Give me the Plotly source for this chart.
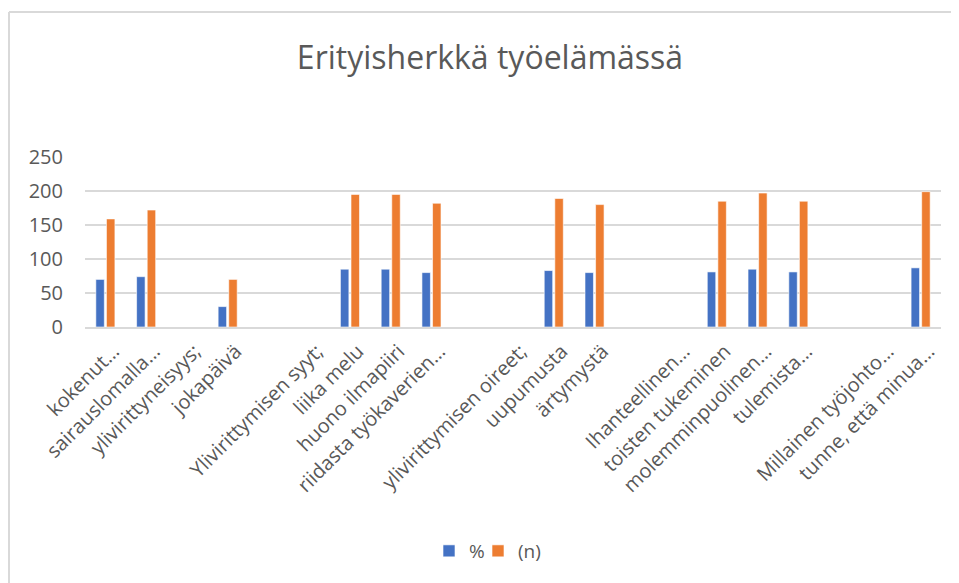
import plotly.graph_objects as go

categories = [
    "kokenut…", "sairauslomalla…", "ylivirittyneisyys;", "jokapäivä", " ",
    "Ylivirittymisen syyt;", "liika melu", "huono ilmapiiri", "riidasta työkaverien…", "  ",
    "ylivirittymisen oireet;", "uupumusta", "ärtymystä", "   ",
    "Ihanteellinen…", "toisten tukeminen", "molemminpuolinen…", "tulemista…", "    ",
    "Millainen työjohto…", "tunne, että minua…",
]
pct = [70, 74, None, 30, None, None, 85, 85, 80, None, None, 83, 80, None,
       None, 81, 85, 81, None, None, 87]
n_vals = [159, 172, None, 70, None, None, 195, 195, 182, None, None, 189, 180, None,
          None, 185, 197, 185, None, None, 199]
y_ticks = [0, 50, 100, 150, 200, 250]

FONT = "Open Sans"
GREY = "#595959"

fig = go.Figure()
fig.add_trace(go.Bar(x=categories, y=pct, name="%", marker_color="#4472C4",
                     marker_line_color="rgba(255,255,255,0.6)", marker_line_width=1,
                     legend="legend", showlegend=True))
fig.add_trace(go.Bar(x=categories, y=n_vals, name="(n)", marker_color="#ED7D31",
                     marker_line_color="rgba(255,255,255,0.6)", marker_line_width=1,
                     legend="legend2", showlegend=True))

# page body has an 8px margin; work in screen pixels and offset
OFF = 8
SW, SH = 959, 583
W, H = SW - OFF, SH - OFF
# plot area in screen pixels
X0, X1, Y0, Y1 = 85, 941, 157, 327
L, R, T, B = X0 - OFF, W - (X1 - OFF), Y0 - OFF, H - (Y1 - OFF)
pw, ph = W - L - R, H - T - B

def px(x):
    return (x - X0) / pw

def py(y):
    return (Y1 - y) / ph

legend_style = dict(orientation="h", yanchor="middle", y=py(551), xanchor="left",
                    font=dict(family=FONT, size=19, color=GREY), itemwidth=30,
                    bgcolor="rgba(0,0,0,0)")

fig.update_layout(
    width=W, height=H,
    showlegend=True,
    margin=dict(l=L, r=R, t=T, b=B, autoexpand=False),
    paper_bgcolor="white", plot_bgcolor="white",
    barmode="group", bargap=0.48, bargroupgap=0.2,
    font=dict(family=FONT, color=GREY),
    title=dict(text="Erityisherkkä työelämässä", x=(490 - OFF) / W, xanchor="center",
               y=1 - (58 - OFF) / H, yanchor="middle",
               font=dict(family=FONT, size=32, color=GREY)),
    legend=dict(legend_style, x=px(429)),
    legend2=dict(legend_style, x=px(478)),
    xaxis=dict(type="category", tickangle=-45, tickfont=dict(family=FONT, size=20, color=GREY),
               showgrid=False, showline=True, linecolor="#d9d9d9", linewidth=1.5,
               ticks="", automargin=False, ticklabelshift=8, ticklabelstandoff=3),
    yaxis=dict(range=[0, 250], tickvals=y_ticks, tickfont=dict(family=FONT, size=20, color=GREY),
               showgrid=True, gridcolor="#d9d9d9", gridwidth=1.5, zeroline=False,
               showline=False, ticks="", automargin=False, ticklabelstandoff=21),
    shapes=[
        dict(type="line", xref="paper", yref="paper", x0=px(9), x1=px(SW + 20),
             y0=py(12), y1=py(12), line=dict(color="#d9d9d9", width=2)),
        dict(type="line", xref="paper", yref="paper", x0=px(9), x1=px(9),
             y0=py(12), y1=py(SH + 20), line=dict(color="#d9d9d9", width=2)),
    ],
)

fig.write_html("out.html")
